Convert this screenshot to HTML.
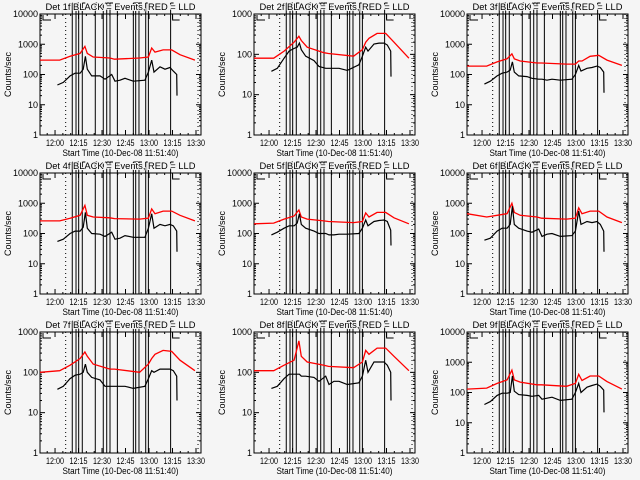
<!DOCTYPE html>
<html><head><meta charset="utf-8"><style>
body{margin:0;background:#f5f5f5}
svg{display:block}
text{font-family:"Liberation Sans",sans-serif;font-size:9px;fill:#000}
</style></head><body>
<svg id="chart" width="640" height="480" xmlns="http://www.w3.org/2000/svg">
<rect width="640" height="480" fill="#f5f5f5"/>
</svg>
<script>
const detectors=["1f","2f","3f","4f","5f","6f","7f","8f","9f"];
const topDecades=[4,3,4,4,4,4,3,3,4];
const xTickLabels=["12:00","12:15","12:30","12:45","13:00","13:15","13:30"];
const xTickMinutes=[0,15,30,45,60,75,90];
const eventLineMinutes=[11.0,13.4,15.1,17.4,25.7,30.8,33.0,35.1,39.8,50.0,51.5,53.6,57.9,59.6,73.8];
const dottedLineMinutes=[6.8,91.3];
const redTimes=[-9.6,3,9.6,16,19.1,20.6,24.4,35,38,54,59.6,61.7,63.8,69,74.5,79.8,89.3];
const blackTimes=[1.5,5.3,9.6,12.8,16,18,19.4,20.6,23.4,28.7,31.9,36.2,38.3,41.5,44.7,50,57.4,59.6,61.7,63.2,67,70.2,73.4,75.5,77.7,77.9];
const red1=[300,300,400,500,850,500,380,350,320,350,380,750,550,650,650,450,300];
const black1=[45,55,90,110,110,150,400,150,90,90,70,100,60,65,75,60,65,120,300,120,180,150,170,130,100,20];
const red2=[80,80,120,200,280,220,150,110,105,90,130,200,250,330,330,200,80];
const black2=[38,45,80,120,140,150,190,130,90,70,50,45,45,45,45,40,55,90,150,120,180,190,190,170,120,28];
const red3=[190,190,260,330,480,330,280,240,240,220,220,280,280,400,430,300,200];
const black3=[48,60,90,110,120,140,260,120,90,85,75,70,70,65,70,65,70,100,200,130,160,170,190,170,120,25];
const red4=[260,260,320,400,850,400,350,330,310,300,320,650,450,550,550,400,260];
const black4=[55,65,100,120,120,160,500,150,100,95,80,110,65,70,85,75,75,150,450,150,200,180,200,180,120,25];
const red5=[210,220,300,380,600,350,300,260,250,230,250,480,350,500,500,330,210];
const black5=[90,110,150,180,180,220,450,200,150,120,100,100,90,90,95,95,100,150,280,180,250,270,280,250,130,40];
const red6=[450,350,400,450,1000,500,400,350,320,300,320,700,450,550,550,350,230];
const black6=[60,70,120,150,150,200,800,200,150,120,110,140,80,95,100,80,85,120,550,200,250,230,250,200,120,25];
const red7=[100,110,150,220,320,250,160,120,120,100,160,220,280,350,330,200,110];
const black7=[38,45,70,85,90,100,160,100,75,65,45,45,45,45,45,40,45,70,110,100,120,120,120,110,80,20];
const red8=[110,110,150,200,600,250,180,150,140,130,180,350,280,400,400,250,110];
const black8=[40,45,70,90,90,90,90,80,80,75,60,80,50,60,60,50,55,80,200,100,180,180,180,150,100,20];
const red9=[130,140,200,260,550,260,220,180,180,160,200,400,250,350,350,230,130];
const black9=[40,50,80,95,95,100,350,110,85,80,75,80,60,65,70,55,60,100,200,100,150,170,190,160,120,22];
const reds=[red1,red2,red3,red4,red5,red6,red7,red8,red9];
const blacks=[black1,black2,black3,black4,black5,black6,black7,black8,black9];

const NS="http://www.w3.org/2000/svg";
const svg=document.getElementById('chart');
const lefts=[40,254,467], tops=[14,173,332], W=161, H=121, T0=-9.6, T1=93.2;
function mk(tag,attrs,parent){const e=document.createElementNS(NS,tag);for(const k in attrs)e.setAttribute(k,attrs[k]);parent.appendChild(e);return e;}

detectors.forEach((det,i)=>{
  const L=lefts[i%3], Tp=tops[Math.floor(i/3)], B=Tp+H, R=L+W, nd=topDecades[i];
  const xs=m=>L+(m-T0)/(T1-T0)*W;
  const ys=v=>B-Math.log10(Math.max(v,1))/nd*H;
  const g=mk('g',{},svg);
  
  
  // event lines
  eventLineMinutes.forEach(m=>{const x=xs(m);
    const ln=mk('line',{x1:x,x2:x,y1:Tp-11,y2:B,stroke:'#000','stroke-width':1},g);
    
    
    mk('line',{x1:x,x2:x+3,y1:Tp-11,y2:Tp-11,stroke:'#000'},g);
  });
  dottedLineMinutes.forEach(m=>{const x=xs(m);
    const ln=mk('line',{x1:x,x2:x,y1:Tp,y2:B,stroke:'#000','stroke-dasharray':'1,3'},g);
    
    
  });
  mk('path',{d:`M${L+3} ${Tp+1}V${Tp+6}H${L+11}M${xs(73.8)+2} ${Tp+1}V${Tp+6}H${xs(73.8)+9}`,stroke:'#000',fill:'none'},g);
  const title=mk('text',{x:(L+R)/2,y:Tp-4,'text-anchor':'middle',textLength:150,lengthAdjust:'spacingAndGlyphs',style:'paint-order:stroke',stroke:'#f5f5f5','stroke-width':2},g);
  title.textContent='Det '+det+' BLACK = Events, RED = LLD';
  
  
  // frame
  const fr=mk('rect',{x:L,y:Tp,width:W,height:H,fill:'none',stroke:'#000'},g);
  
  
  // y ticks
  for(let d=0;d<=nd;d++){const y=ys(Math.pow(10,d));
    mk('line',{x1:L,x2:L+5,y1:y,y2:y,stroke:'#000'},g);
    mk('line',{x1:R-5,x2:R,y1:y,y2:y,stroke:'#000'},g);
    const t=mk('text',{x:L-2,y:y+3,'text-anchor':'end','font-size':8},g);
    t.textContent=String(Math.pow(10,d));
    
    
    if(d<nd)for(let k=2;k<10;k++){const yy=ys(k*Math.pow(10,d));
      mk('line',{x1:L,x2:L+2,y1:yy,y2:yy,stroke:'#000'},g);
      mk('line',{x1:R-2,x2:R,y1:yy,y2:yy,stroke:'#000'},g);}
  }
  // x ticks
  for(let m=-5;m<=90;m+=5){const x=xs(m);const len=(m%15===0)?5:2;
    mk('line',{x1:x,x2:x,y1:B,y2:B-len,stroke:'#000'},g);
    mk('line',{x1:x,x2:x,y1:Tp,y2:Tp+len,stroke:'#000'},g);}
  xTickLabels.forEach((lab,j)=>{const t=mk('text',{x:xs(xTickMinutes[j]),y:B+11,'text-anchor':'middle','font-size':8,textLength:18,lengthAdjust:'spacingAndGlyphs'},g);
    t.textContent=lab;
    
    });
  const xl=mk('text',{x:(L+R)/2,y:B+21,'text-anchor':'middle',textLength:116,lengthAdjust:'spacingAndGlyphs'},g);
  xl.textContent='Start Time (10-Dec-08 11:51:40)';
  
  
  const yl=mk('text',{x:0,y:0,'text-anchor':'middle','font-size':'8',transform:`translate(${L-29},${(Tp+B)/2}) rotate(-90)`},g);
  yl.textContent='Counts/sec';
  
  
  // series
  const rp=mk('polyline',{points:redTimes.map((t,k)=>xs(t).toFixed(1)+','+ys(reds[i][k]).toFixed(1)).join(' '),fill:'none',stroke:'#ff0000','stroke-width':1.3},g);
  
  
  const bp=mk('polyline',{points:blackTimes.map((t,k)=>xs(t).toFixed(1)+','+ys(blacks[i][k]).toFixed(1)).join(' '),fill:'none',stroke:'#000','stroke-width':1.2},g);
  
  
});
</script>
</body></html>
